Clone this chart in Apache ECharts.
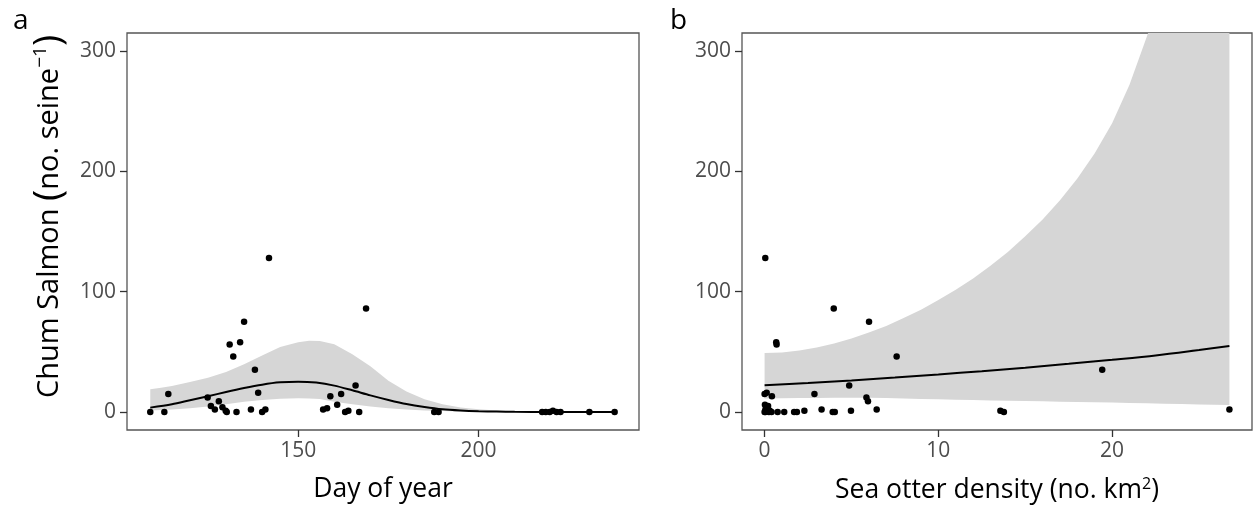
<!DOCTYPE html>
<html>
<head>
<meta charset="utf-8">
<script src="https://cdn.jsdelivr.net/npm/echarts@6/dist/echarts.min.js"></script>
<style>
    html, body { margin: 0; padding: 0; background: #fff; }
    #chart { width: 1254px; height: 510px; }
</style>
</head>
<body>
<div id="chart"></div>
<script>
// panel a: catch vs day of year
const dayX = [109, 112.9, 114, 124.9, 125.8, 126.9, 128, 129, 129.9, 130.2, 131, 132, 132.9, 133.9, 135,
    136.9, 138, 138.9, 140, 140.9, 141.9, 156.9, 158, 158.9, 160.8, 161.9, 163, 163.9, 165.9, 166.9, 168.8,
    187.7, 188.9, 217.6, 218.6, 219.7, 220.6, 221.6, 222.7, 230.7, 237.7];
const dayCount = [0, 0, 15, 12, 5, 2, 9, 4, 1, 0, 56, 46, 0, 58, 75,
    2, 35, 16, 0, 2, 128, 2, 3, 13, 6, 15, 0, 1, 22, 0, 86,
    0, 0, 0, 0, 0, 1, 0, 0, 0, 0];

const dayFitX = [109, 115, 120, 125, 130, 135, 140, 145, 150, 155, 160, 165, 170, 175, 180, 185, 190, 195, 200, 205, 210, 220, 230, 238];
const dayFit  = [3.6, 6.4, 9.7, 13, 16.6, 19.9, 22.7, 24.6, 25.2, 24.4, 21.9, 18, 13.8, 10, 6.6, 4.1, 2.2, 1.2, 0.6, 0.3, 0.1, 0, 0, 0];

const dayBandX = [109, 112, 115, 120, 125, 130, 135, 140, 145, 150, 153, 156, 160, 165, 170, 175, 180, 185, 190, 195, 200, 205, 210, 220, 230, 238];
const dayHigh  = [18.8, 20.2, 21.6, 24.9, 28.5, 33.2, 39.6, 47, 54, 58, 59.2, 59, 56.2, 47.9, 38, 26, 17, 10.5, 6.4, 3.6, 2.2, 1.2, 0.6, 0.1, 0, 0];
const dayLow   = [1.2, 1.6, 2, 3, 4.5, 6.5, 8.5, 10, 11, 11.3, 11.1, 10.7, 8.5, 6.5, 4.5, 3, 2, 1.2, 0.7, 0.4, 0.2, 0.1, 0.05, 0, 0, 0];

// panel b: catch vs sea otter density
const otterX = [0.04, 3.98, 6.01, 0.67, 0.69, 7.6, 19.43, 4.87, 2.87, 0, 0.12, 0.42, 5.86, 5.95, 6.45, 4.97,
    3.92, 4.04, 3.28, 2.29, 1.86, 1.7, 1.13, 0.75, 0, 0.05, 0.1, 0.15, 0.2, 0.02, 0.1, 0.25, 0.3, 0.4, 0.05,
    13.57, 13.77, 26.75];
const otterCount = [128, 86, 75, 58, 56, 46, 35, 22, 15, 15, 16, 13, 12, 9, 2, 1,
    0, 0, 2, 1, 0, 0, 0, 0, 0, 0, 1, 3, 5, 6, 4, 0, 1, 0, 2,
    1, 0, 2];

const otterFitX = [0, 2.5, 5, 7.5, 10, 12.5, 15, 17.5, 20, 22.5, 25, 26.75];
const otterFit  = [22.2, 24.1, 26.2, 28.6, 31.2, 33.9, 36.8, 40, 43.4, 47, 51.5, 54.8];

const otterBandX = [0, 1, 2, 3, 4, 5, 6, 7, 8, 9, 10, 11, 12, 13, 14, 15, 16, 17, 18, 19, 20, 21, 22, 23, 24, 25, 26.75];
const otterHigh  = [49, 49.5, 51, 53.5, 57, 61, 66, 71.5, 78, 85, 93, 101.5, 111, 121.5, 133, 146, 160, 176, 194, 215, 240, 272, 312, 356, 406, 465, 600];
const otterLow   = [11.1, 11.3, 11.5, 11.7, 11.8, 11.8, 11.8, 11.5, 11.2, 10.8, 10.5, 10.2, 9.9, 9.6, 9.3, 9.1, 8.8, 8.5, 8.3, 8, 7.8, 7.5, 7.2, 6.9, 6.6, 6.3, 5.8];

const yTicks = [0, 100, 200, 300];
const dayTicks = [150, 200];
const otterTicks = [0, 10, 20];

const FONT = '"Open Sans", "DejaVu Sans", sans-serif';
const BAND = '#d6d6d6';

const zip = (xs, ys) => xs.map((x, i) => [x, ys[i]]);

function valueAxis(idx, min, max, ticks, extra) {
    return Object.assign({
        type: 'value',
        gridIndex: idx,
        min: min,
        max: max,
        axisLine: { show: false, onZero: false },
        axisTick: { show: true, length: 7, customValues: ticks, lineStyle: { color: '#333', width: 1.3 } },
        axisLabel: { customValues: ticks, color: '#4d4d4d', fontFamily: FONT, fontSize: 21, margin: 11 },
        splitLine: { show: false }
    }, extra || {});
}

// confidence ribbon drawn as one polygon through the axis scales
function band(idx, xs, low, high) {
    return {
        type: 'custom',
        xAxisIndex: idx,
        yAxisIndex: idx,
        data: [[xs[0], low[0]]],
        silent: true,
        z: 1,
        renderItem: (params, api) => {
            let pts = xs.map((x, i) => api.coord([x, high[i]]));
            for (let i = xs.length - 1; i >= 0; i--) {
                pts.push(api.coord([xs[i], low[i]]));
            }
            let cs = params.coordSys;
            return {
                type: 'polygon',
                shape: { points: pts },
                style: { fill: BAND },
                clipPath: { type: 'rect', shape: { x: cs.x, y: cs.y, width: cs.width, height: cs.height } }
            };
        }
    };
}

const chart = echarts.init(document.getElementById('chart'), null, { renderer: 'canvas' });

chart.setOption({
    animation: false,
    backgroundColor: '#fff',
    title: [
        { text: 'a', left: 8, top: 2, textStyle: { fontFamily: FONT, fontSize: 28, fontWeight: 'normal', color: '#000' } },
        { text: 'b', left: 665, top: 2, textStyle: { fontFamily: FONT, fontSize: 28, fontWeight: 'normal', color: '#000' } }
    ],
    grid: [
        { left: 127, top: 33, width: 512, height: 397, show: true, borderColor: '#555', borderWidth: 1.3 },
        { left: 742, top: 33, width: 510, height: 397, show: true, borderColor: '#555', borderWidth: 1.3 }
    ],
    xAxis: [
        valueAxis(0, 102.55, 244.45, dayTicks, {
            name: 'Day of year', nameLocation: 'middle', nameGap: 46,
            nameTextStyle: { fontFamily: FONT, fontSize: 26.5, color: '#000' }
        }),
        valueAxis(1, -1.3, 28.05, otterTicks, {
            name: 'Sea otter density (no. km{s|2})', nameLocation: 'middle', nameGap: 46,
            nameTextStyle: {
                fontFamily: FONT, fontSize: 26.5, color: '#000',
                rich: { s: { fontFamily: FONT, fontSize: 16, color: '#000', verticalAlign: 'top', padding: [0, 0, 13, 0] } }
            }
        })
    ],
    yAxis: [
        valueAxis(0, -15, 315, yTicks, {
            name: 'Chum Salmon {p|(}no. seine{s|\u22121}{p|)}', nameLocation: 'middle', nameGap: 58,
            nameTextStyle: {
                fontFamily: FONT, fontSize: 29, color: '#000', padding: [0, 0, 0, 30],
                rich: {
                    p: { fontFamily: FONT, fontSize: 38, color: '#000' },
                    s: { fontFamily: FONT, fontSize: 19, color: '#000', verticalAlign: 'top', padding: [0, 0, 15, 0] }
                }
            }
        }),
        valueAxis(1, -15, 315, yTicks)
    ],
    series: [
        band(0, dayBandX, dayLow, dayHigh),
        band(1, otterBandX, otterLow, otterHigh),
        {
            type: 'line', xAxisIndex: 0, yAxisIndex: 0, data: zip(dayFitX, dayFit),
            symbol: 'none', smooth: 0.3, lineStyle: { color: '#000', width: 2 }, z: 3
        },
        {
            type: 'line', xAxisIndex: 1, yAxisIndex: 1, data: zip(otterFitX, otterFit),
            symbol: 'none', smooth: 0.3, lineStyle: { color: '#000', width: 2 }, z: 3
        },
        {
            type: 'scatter', xAxisIndex: 0, yAxisIndex: 0, data: zip(dayX, dayCount),
            symbolSize: 6.5, itemStyle: { color: '#000', opacity: 1 }, z: 4
        },
        {
            type: 'scatter', xAxisIndex: 1, yAxisIndex: 1, data: zip(otterX, otterCount),
            symbolSize: 6.5, itemStyle: { color: '#000', opacity: 1 }, z: 4
        }
    ]
});
</script>
</body>
</html>
